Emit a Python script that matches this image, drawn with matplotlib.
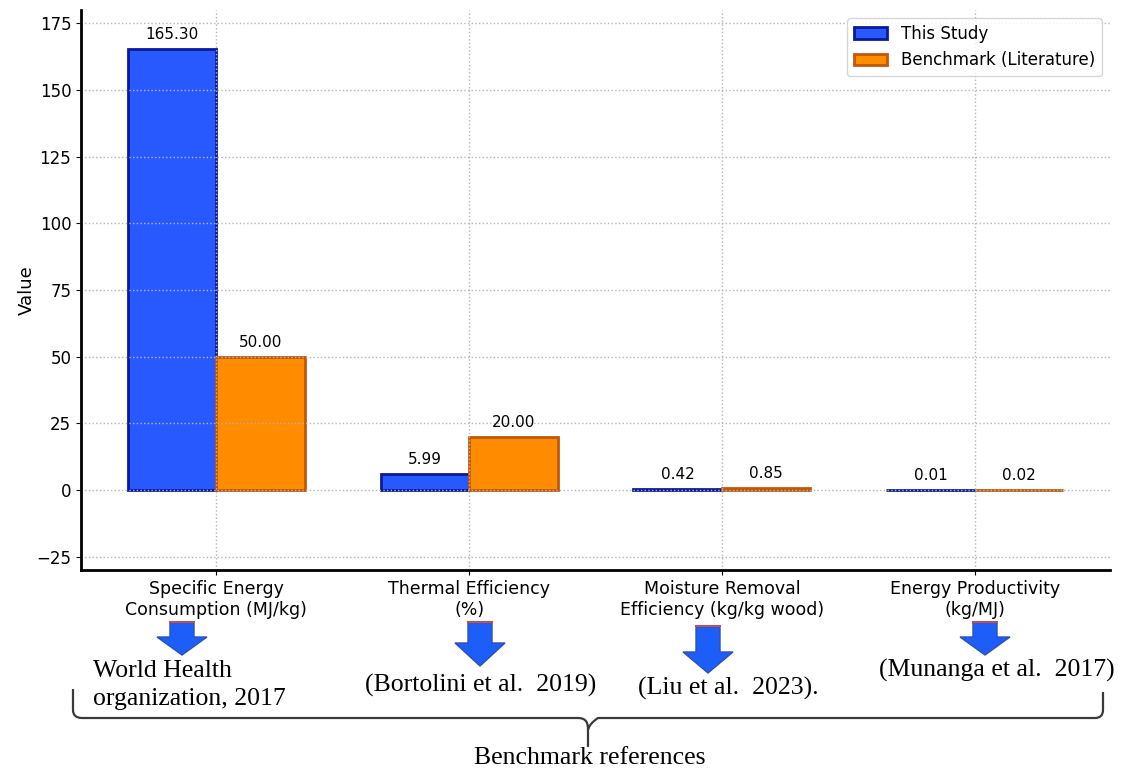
import numpy as np
import matplotlib.pyplot as plt
from matplotlib.path import Path
from matplotlib.patches import PathPatch, Polygon

# данные
categories = ['Specific Energy\nConsumption (MJ/kg)', 'Thermal Efficiency\n(%)',
              'Moisture Removal\nEfficiency (kg/kg wood)', 'Energy Productivity\n(kg/MJ)']
this_study = [165.30, 5.99, 0.42, 0.01]
benchmark = [50.00, 20.00, 0.85, 0.02]
references = ['World Health\norganization, 2017', '(Bortolini et al.  2019)',
              '(Liu et al.  2023).', '(Munanga et al.  2017)']

W, H = 1121, 771
fig = plt.figure(figsize=(W / 100, H / 100), dpi=100)
ax = fig.add_axes([81 / W, 1 - 570 / H, (1110 - 81) / W, (570 - 10) / H])

x = np.arange(len(categories))
width = 0.35
b1 = ax.bar(x - width / 2, this_study, width, label='This Study',
            color='#2759FF', edgecolor='#0A1A9A', linewidth=2)
b2 = ax.bar(x + width / 2, benchmark, width, label='Benchmark (Literature)',
            color='#FF8C00', edgecolor='#C0580A', linewidth=2)

for bars in (b1, b2):
    for r in bars:
        ax.annotate(f'{r.get_height():.2f}', (r.get_x() + r.get_width() / 2, r.get_height()),
                    xytext=(0, 5), textcoords='offset points', ha='center', va='bottom',
                    fontsize=11)

ax.set_ylim(-30, 180)
ax.set_xticks(x)
ax.set_xticklabels(categories, fontsize=12.5)
ax.tick_params(axis='y', labelsize=12)
ax.set_ylabel('Value', fontsize=13, labelpad=0)
ax.grid(True, linestyle=':', color='#b5b5b5', linewidth=1)
for s in ('top', 'right'):
    ax.spines[s].set_visible(False)
for s in ('left', 'bottom'):
    ax.spines[s].set_linewidth(2)
ax.legend(loc='upper right', fontsize=12)

# нижняя часть: стрелки, ссылки, скобка (в пикселях)
ov = fig.add_axes([0, 0, 1, 1])
ov.set_xlim(0, W)
ov.set_ylim(H, 0)
ov.set_axis_off()

arrows = [(182, 622, 637, 655), (480, 622, 643, 666), (708, 626, 652, 673), (985, 622, 637, 655)]
for cx, top, neck, tip in arrows:
    pts = [(cx - 12, top), (cx + 12, top), (cx + 12, neck), (cx + 25, neck), (cx, tip),
           (cx - 25, neck), (cx - 12, neck)]
    ov.add_patch(Polygon(pts, closed=True, facecolor='#1E5EF8', edgecolor='#2A50B8', lw=1))
    ov.plot([cx - 12, cx + 12], [top, top], color='#C0504D', lw=1.5)

serif = 'Liberation Serif'
ov.text(93, 685, references[0], family=serif, fontsize=18.5, ha='left', va='center',
        linespacing=1.3)
ov.text(481, 685, references[1], family=serif, fontsize=18.5, ha='center', va='center')
ov.text(638, 688, references[2], family=serif, fontsize=18.5, ha='left', va='center')
ov.text(997, 670, references[3], family=serif, fontsize=18.5, ha='center', va='center')
ov.text(590, 758, 'Benchmark references', family=serif, fontsize=18.5, ha='center', va='center')

verts = [(73, 689), (73, 710), (73, 718), (82, 718), (578, 718),
         (587, 718), (588, 724), (588, 730), (588, 747),
         (588, 730), (589, 724), (598, 718), (1095, 718),
         (1103, 718), (1103, 710), (1103, 692)]
codes = [Path.MOVETO, Path.LINETO, Path.CURVE3, Path.CURVE3, Path.LINETO,
         Path.CURVE4, Path.CURVE4, Path.CURVE4, Path.LINETO,
         Path.MOVETO, Path.CURVE3, Path.CURVE3, Path.LINETO,
         Path.CURVE3, Path.CURVE3, Path.LINETO]
ov.add_patch(PathPatch(Path(verts, codes), fill=False, edgecolor='#3a3a3a', lw=1.6))

fig.savefig('out.png', dpi=100)
